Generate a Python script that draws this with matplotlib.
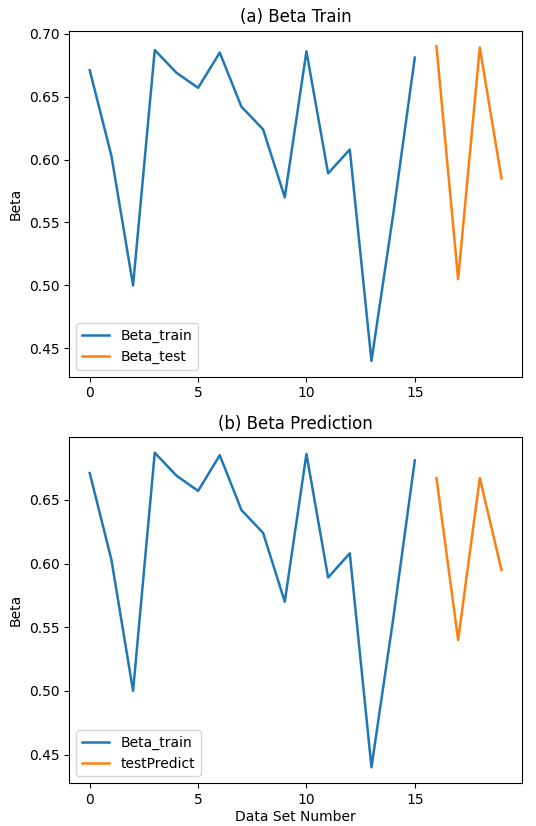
import matplotlib
matplotlib.use("Agg")
from matplotlib import pyplot as plt
from matplotlib.ticker import MultipleLocator

# indices of the data sets
x_train = list(range(0, 16))
x_test = list(range(16, 20))

# beta values
beta_train = [0.671, 0.603, 0.500, 0.687, 0.669, 0.657, 0.685, 0.642,
              0.624, 0.570, 0.686, 0.589, 0.608, 0.440, 0.556, 0.681]
beta_test = [0.690, 0.505, 0.689, 0.585]
test_predict = [0.667, 0.540, 0.667, 0.595]

fig = plt.figure(figsize=(5.36, 8.26), dpi=100)

# (a) train + test
ax1 = fig.add_axes([0.129, 0.544, 0.845, 0.419])
ax1.plot(x_train, beta_train, label="Beta_train", linewidth=1.8)
ax1.plot(x_test, beta_test, label="Beta_test", linewidth=1.8)
ax1.set_title("(a) Beta Train")
ax1.set_ylabel("Beta")
ax1.xaxis.set_major_locator(MultipleLocator(5))
ax1.legend(loc="lower left")

# (b) train + prediction
ax2 = fig.add_axes([0.129, 0.052, 0.845, 0.419])
ax2.plot(x_train, beta_train, label="Beta_train", linewidth=1.8)
ax2.plot(x_test, test_predict, label="testPredict", linewidth=1.8)
ax2.set_title("(b) Beta Prediction")
ax2.set_ylabel("Beta")
ax2.set_xlabel("Data Set Number", labelpad=2)
ax2.xaxis.set_major_locator(MultipleLocator(5))
ax2.legend(loc="lower left")

fig.savefig("out.png", dpi=100)
